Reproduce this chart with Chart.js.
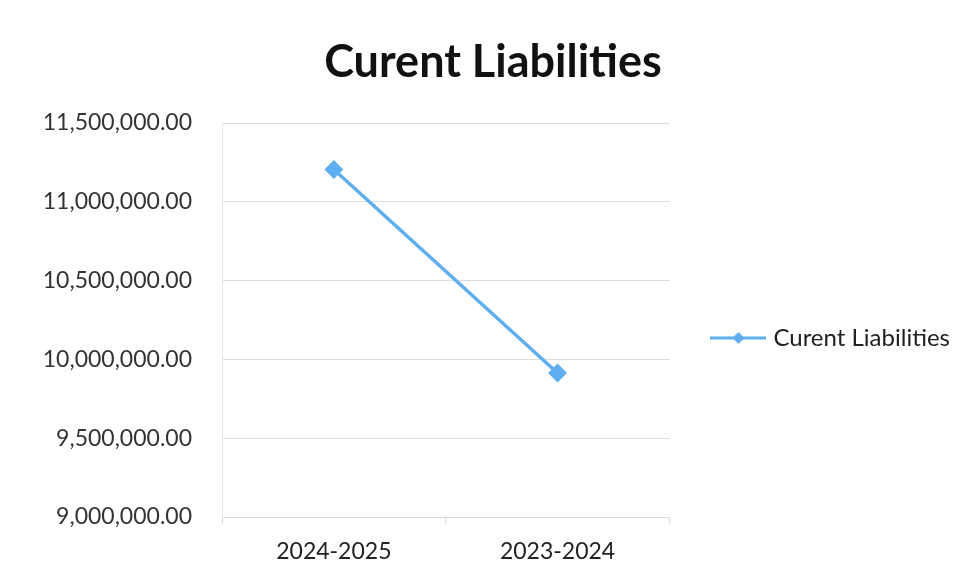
<!DOCTYPE html>
<html>
<head>
<meta charset="utf-8">
<script src="https://cdn.jsdelivr.net/npm/chart.js@4/dist/chart.umd.min.js"></script>
<style>
  body { margin: 0; background: #fff; }
  #wrap { width: 965px; height: 576px; }
</style>
</head>
<body>
<div id="wrap"><canvas id="chart" width="965" height="576"></canvas></div>
<script>
const categories = ['2024-2025', '2023-2024'];
const liabilities = [11205000, 9914000];
const seriesName = 'Curent Liabilities';
const chartTitle = 'Curent Liabilities';

const lineColor = '#5eaef0';
const textColor = '#222';
const fontFamily = 'Lato, "Open Sans", sans-serif';

// legend symbol: line with diamond, like the spreadsheet one
function legendSymbol() {
    const c = document.createElement('canvas');
    c.width = 56; c.height = 14;
    const g = c.getContext('2d');
    g.strokeStyle = lineColor;
    g.lineWidth = 3;
    g.beginPath(); g.moveTo(0, 7); g.lineTo(56, 7); g.stroke();
    g.fillStyle = lineColor;
    g.beginPath(); g.moveTo(28, 1); g.lineTo(34, 7); g.lineTo(28, 13); g.lineTo(22, 7); g.closePath(); g.fill();
    return c;
}

const fmt = v => v.toLocaleString('en-US', { minimumFractionDigits: 2, maximumFractionDigits: 2 });

new Chart(document.getElementById('chart').getContext('2d'), {
    type: 'line',
    data: {
        labels: categories,
        datasets: [{
            label: seriesName,
            data: liabilities,
            borderColor: lineColor,
            backgroundColor: lineColor,
            borderWidth: 3.5,
            pointStyle: 'rectRot',
            pointRadius: 7,
            pointBackgroundColor: lineColor,
            pointBorderColor: lineColor,
            tension: 0
        }]
    },
    options: {
        responsive: false,
        animation: false,
        layout: { padding: { left: 26, right: 5, top: 20, bottom: 0 } },
        plugins: {
            title: {
                display: true,
                text: chartTitle,
                color: '#111',
                font: { family: fontFamily, size: 45, weight: 'bold' },
                padding: { top: 15, bottom: 34 }
            },
            legend: {
                position: 'right',
                fullSize: false,
                maxWidth: 320,
                // empty title only pushes the entry down a bit
                title: { display: true, text: ' ', font: { size: 10 }, padding: { top: 12, bottom: 12 } },
                labels: {
                    usePointStyle: true,
                    pointStyleWidth: 46,
                    color: textColor,
                    font: { family: fontFamily, size: 24 },
                    padding: 46,
                    generateLabels: chart => [{
                        text: seriesName,
                        pointStyle: legendSymbol(),
                        fillStyle: lineColor,
                        strokeStyle: lineColor,
                        fontColor: textColor,
                        lineWidth: 0,
                        datasetIndex: 0
                    }]
                }
            },
            tooltip: { enabled: false }
        },
        scales: {
            x: {
                offset: true,
                grid: { offset: true, drawOnChartArea: false, tickLength: 7, color: '#d9d9d9' },
                border: { display: true, color: '#d9d9d9' },
                ticks: { color: textColor, font: { family: fontFamily, size: 23, lineHeight: 1 }, padding: 16 },
                afterFit: s => { s.height = 59; }
            },
            y: {
                min: 9000000,
                max: 11500000,
                ticks: {
                    stepSize: 500000,
                    color: '#333',
                    font: { family: fontFamily, size: 23 },
                    padding: 30,
                    callback: v => fmt(v)
                },
                grid: { color: '#dcdcdc', drawTicks: false },
                border: { display: true, color: '#e6e6e6' },
                afterFit: s => { s.width = 196; }
            }
        }
    }
});
</script>
</body>
</html>
